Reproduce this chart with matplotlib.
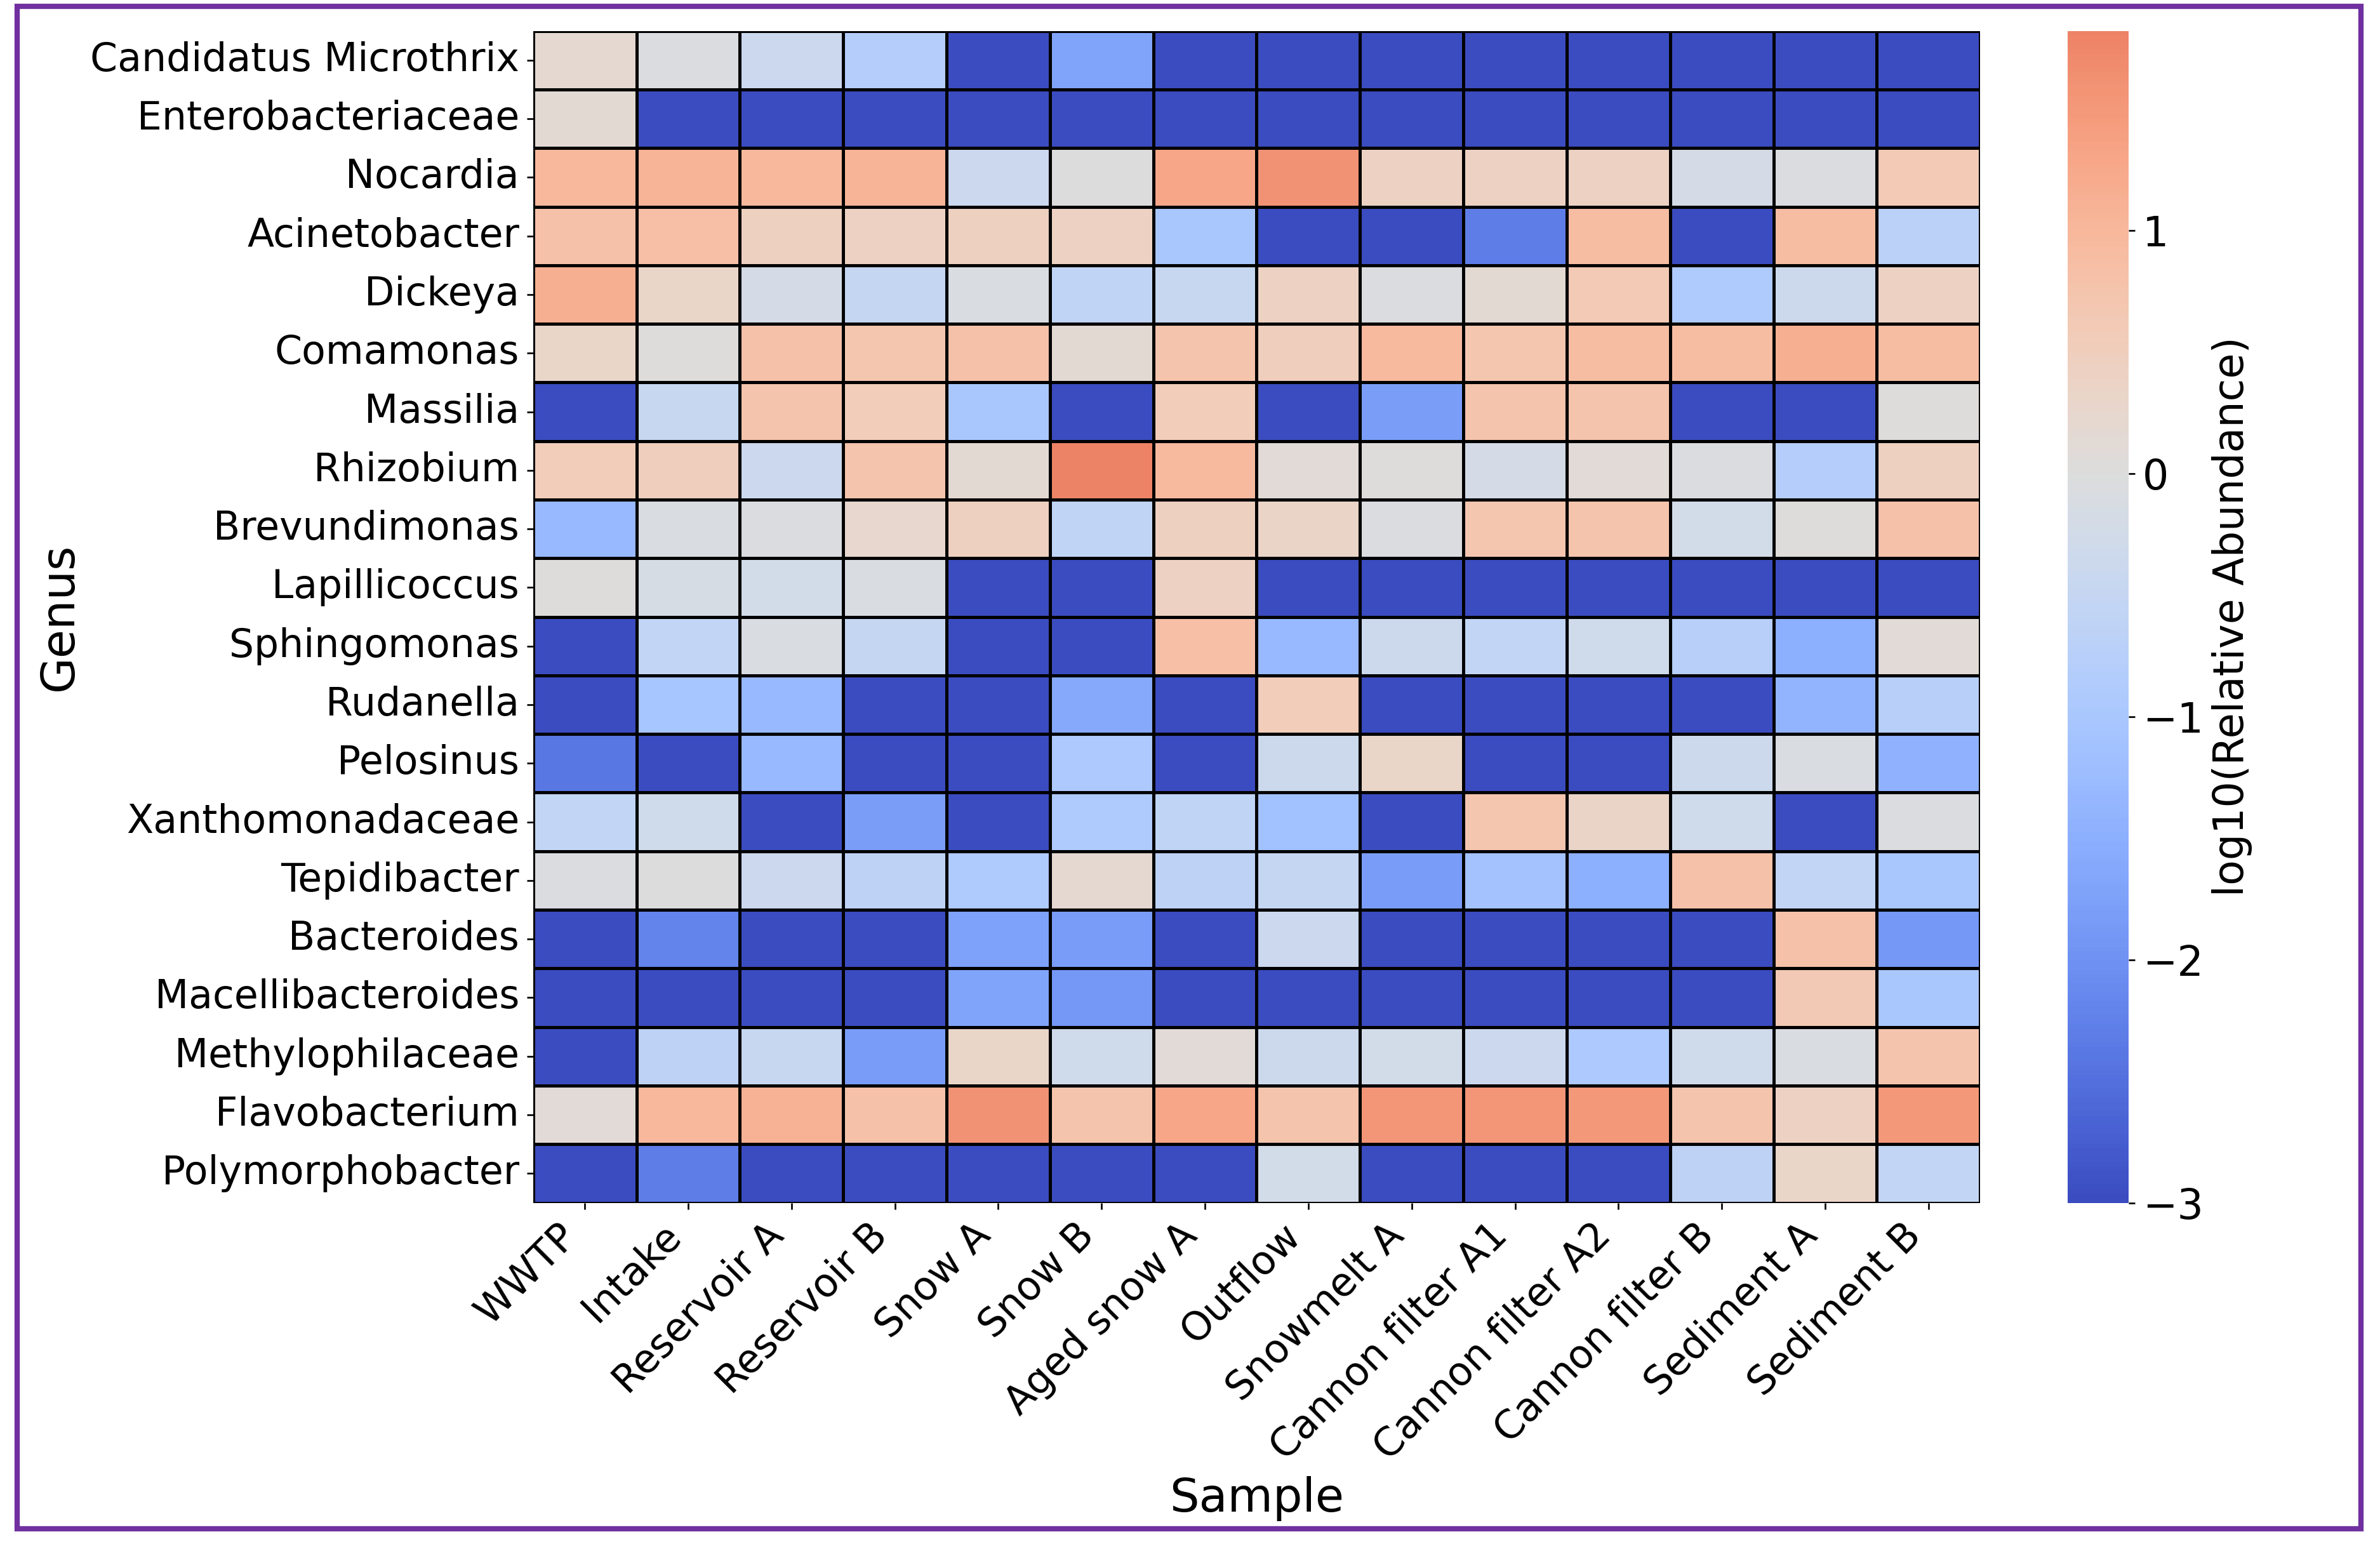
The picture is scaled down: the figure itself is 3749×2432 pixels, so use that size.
import numpy as np
import pandas as pd
import matplotlib
matplotlib.use('Agg')
import matplotlib.pyplot as plt
import seaborn as sns
from matplotlib.patches import Rectangle

plt.rcParams['font.family'] = ['DejaVu Sans']

samples = ['WWTP', 'Intake', 'Reservoir A', 'Reservoir B', 'Snow A', 'Snow B',
           'Aged snow A', 'Outflow', 'Snowmelt A', 'Cannon filter A1',
           'Cannon filter A2', 'Cannon filter B', 'Sediment A', 'Sediment B']

genera = ['Candidatus Microthrix', 'Enterobacteriaceae', 'Nocardia', 'Acinetobacter',
          'Dickeya', 'Comamonas', 'Massilia', 'Rhizobium', 'Brevundimonas',
          'Lapillicoccus', 'Sphingomonas', 'Rudanella', 'Pelosinus',
          'Xanthomonadaceae', 'Tepidibacter', 'Bacteroides', 'Macellibacteroides',
          'Methylophilaceae', 'Flavobacterium', 'Polymorphobacter']

# log10 relative abundance, one list per genus (-3 = floor)
microthrix    = [0.2, -0.05, -0.4, -0.8, -3, -1.7, -3, -3, -3, -3, -3, -3, -3, -3]
entero        = [0.15, -3, -3, -3, -3, -3, -3, -3, -3, -3, -3, -3, -3, -3]
nocardia      = [1.0, 1.05, 1.0, 1.05, -0.4, 0.0, 1.3, 1.6, 0.4, 0.4, 0.4, -0.2, -0.05, 0.6]
acinetobacter = [0.8, 0.85, 0.45, 0.4, 0.45, 0.4, -1.0, -3, -3, -2.3, 0.9, -3, 0.9, -0.7]
dickeya       = [1.15, 0.3, -0.2, -0.5, -0.1, -0.6, -0.45, 0.4, -0.05, 0.15, 0.6, -0.9, -0.35, 0.4]
comamonas     = [0.3, 0.05, 0.8, 0.7, 0.8, 0.15, 0.75, 0.5, 0.95, 0.7, 0.9, 0.9, 1.15, 0.9]
massilia      = [-3, -0.45, 0.75, 0.55, -1.0, -3, 0.55, -3, -1.8, 0.75, 0.75, -3, -3, 0.05]
rhizobium     = [0.55, 0.5, -0.4, 0.75, 0.15, 1.82, 0.95, 0.1, 0.05, -0.2, 0.1, -0.05, -0.8, 0.45]
brevundimonas = [-1.3, -0.1, -0.05, 0.25, 0.45, -0.6, 0.45, 0.35, -0.05, 0.7, 0.75, -0.25, 0.05, 0.8]
lapillicoccus = [0.05, -0.15, -0.25, -0.1, -3, -3, 0.4, -3, -3, -3, -3, -3, -3, -3]
sphingomonas  = [-3, -0.55, -0.1, -0.5, -3, -3, 0.85, -1.3, -0.35, -0.55, -0.3, -0.75, -1.5, 0.1]
rudanella     = [-3, -1.05, -1.3, -3, -3, -1.6, -3, 0.55, -3, -3, -3, -3, -1.4, -0.75]
pelosinus     = [-2.4, -3, -1.3, -3, -3, -0.95, -3, -0.35, 0.3, -3, -3, -0.35, -0.1, -1.45]
xanthomonad   = [-0.55, -0.3, -3, -1.8, -3, -0.9, -0.6, -1.15, -3, 0.7, 0.35, -0.3, -3, -0.05]
tepidibacter  = [-0.05, 0.0, -0.4, -0.65, -0.9, 0.2, -0.65, -0.5, -1.85, -1.1, -1.5, 0.8, -0.55, -1.0]
bacteroides   = [-3, -2.2, -3, -3, -1.75, -1.85, -3, -0.4, -3, -3, -3, -3, 0.8, -1.9]
macelli       = [-3, -3, -3, -3, -1.7, -1.9, -3, -3, -3, -3, -3, -3, 0.65, -1.0]
methylophil   = [-3, -0.65, -0.45, -1.85, 0.3, -0.3, 0.1, -0.35, -0.25, -0.4, -0.95, -0.3, -0.1, 0.75]
flavobacter   = [0.1, 1.0, 1.1, 0.8, 1.6, 0.75, 1.3, 0.75, 1.55, 1.55, 1.5, 0.75, 0.4, 1.5]
polymorpho    = [-3, -2.3, -3, -3, -3, -3, -3, -0.25, -3, -3, -3, -0.65, 0.3, -0.55]

rows = [microthrix, entero, nocardia, acinetobacter, dickeya, comamonas, massilia,
        rhizobium, brevundimonas, lapillicoccus, sphingomonas, rudanella, pelosinus,
        xanthomonad, tepidibacter, bacteroides, macelli, methylophil, flavobacter,
        polymorpho]
df = pd.DataFrame(rows, index=genera, columns=samples)

fig = plt.figure(figsize=(3749 / 240, 2432 / 240), dpi=240)
ax = fig.add_axes([0.224, 0.221, 0.608, 0.759])
cax = fig.add_axes([0.8688, 0.221, 0.0256, 0.759])

sns.heatmap(df, cmap='coolwarm', center=0, vmin=-3, linewidths=1.5,
            linecolor='black', ax=ax, cbar_ax=cax)

ax.set_xlabel('Sample', fontsize=22)
ax.set_ylabel('Genus', fontsize=22)
ax.set_xticklabels(samples, rotation=45, ha='right', fontsize=18.5)
ax.set_yticklabels(genera, rotation=0, fontsize=18.5)
ax.tick_params(axis='both', length=3)

cbar = ax.collections[0].colorbar
cbar.set_ticks([-3, -2, -1, 0, 1])
cbar.ax.tick_params(labelsize=19.5, length=3)
cbar.set_label('log10(Relative Abundance)', fontsize=19.5)

# purple frame around the whole picture
fig.patches.append(Rectangle((0.0072, 0.0099), 0.9848, 0.986, transform=fig.transFigure,
                             fill=False, edgecolor='#7030A0', linewidth=2.5))

fig.savefig('out.png', dpi=240)
